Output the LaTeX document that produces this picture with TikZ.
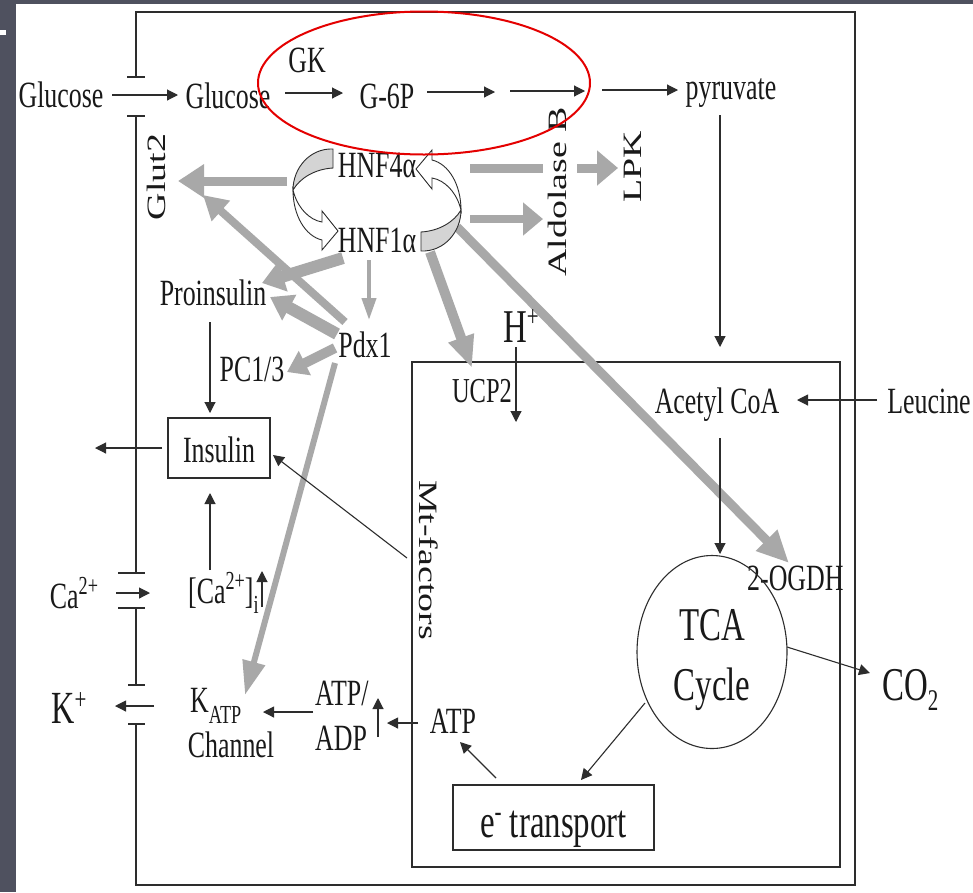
\documentclass[tikz,border=0pt]{standalone}
\usepackage{fontspec}
\setmainfont{Liberation Serif}
\newfontfamily\nf[FakeStretch=0.7]{Liberation Serif}
\newfontfamily\rfnt[FakeStretch=1.43]{Liberation Serif}
\usetikzlibrary{arrows.meta,shapes.geometric}
\definecolor{slide}{RGB}{79,81,95}
\definecolor{garrow}{RGB}{168,168,168}
\definecolor{lineink}{RGB}{45,45,45}
\definecolor{shade}{RGB}{212,212,212}
\definecolor{ellred}{RGB}{228,0,0}
\definecolor{ink}{RGB}{25,25,25}
\newcommand\fsN{\nf\fontsize{37}{40}\selectfont}
\newcommand\fsM{\nf\fontsize{35}{38}\selectfont}
\newcommand\fsL{\nf\fontsize{47}{50}\selectfont}
\newcommand\fsR{\rfnt\fontsize{26.5}{28}\selectfont}
\newcommand\fsS{\nf\fontsize{26}{28}\selectfont}
\newcommand\fsSL{\nf\fontsize{30}{32}\selectfont}
\newcommand\hnfloop{%
 \filldraw[fill=shade, draw=lineink, line width=0.9pt] (333,149) .. controls (310,148) and (293,168) .. (293,190) .. controls (300,178) and (315,169) .. (333,168) -- cycle;
 \filldraw[fill=white, draw=lineink, line width=0.9pt] (293,190) .. controls (293,215) and (305,236) .. (322,240) -- (322,250) -- (338,231) -- (322,211) -- (322,222) .. controls (309,220) and (297,207) .. (293,190) -- cycle;}
\begin{document}
\begin{tikzpicture}[x=1pt,y=-1pt,
  lbl/.style={inner sep=0pt, anchor=base, font=\fsN, text=ink},
  big/.style={inner sep=0pt, anchor=base, font=\fsL, text=ink},
  vlbl/.style={inner sep=0pt, font=\fsR, text=ink},
  blk/.style={draw=lineink, line width=1.1pt, -{Triangle[length=11pt,width=11pt]}},
  mem/.style={draw=lineink, line width=1.1pt},
  garr/.style={draw=garrow}]
\useasboundingbox (0,0) rectangle (973,892);
\fill[slide] (0,0) rectangle (973,892);
\fill[white] (16,4) rectangle (973,892);
\fill[white] (0,30) rectangle (6,35);

% cell membrane and outer box
\draw[mem] (136,77) -- (136,12) -- (855,12) -- (855,885) -- (136,885) -- (136,724);
\draw[mem] (136,116) -- (136,573);
\draw[mem] (136,608) -- (136,685);
\draw[mem] (127,77) -- (145,77);
\draw[mem] (127,116) -- (145,116);
\draw[mem] (118,573) -- (145,573);
\draw[mem] (118,608) -- (145,608);
\draw[mem] (128,685) -- (145,685);
\draw[mem] (128,724) -- (145,724);
% mitochondrion
\draw[mem] (412,362) rectangle (840,867);

% ---------- coordinates ----------
\coordinate (g1s) at (287,181);  \coordinate (g1e) at (178,181);
\coordinate (g2s) at (345,322);  \coordinate (g2e) at (203,195);
\coordinate (g3s) at (343,258);  \coordinate (g3e) at (262,283);
\coordinate (g4s) at (337,334);  \coordinate (g4e) at (270,297);
\coordinate (g5s) at (335,348);  \coordinate (g5e) at (287,372);
\coordinate (g6s) at (369,260);  \coordinate (g6e) at (369,320);
\coordinate (g7s) at (335,363);  \coordinate (g7e) at (245,695);
\coordinate (g8s) at (430,252);  \coordinate (g8e) at (472,368);
\coordinate (g9s) at (457,227);  \coordinate (g9e) at (789,563);
\coordinate (g10a) at (470,168); \coordinate (g10b) at (543,168);
\coordinate (g10c) at (577,168); \coordinate (g10e) at (618,168);
\coordinate (g11s) at (470,219); \coordinate (g11e) at (543,219);

% ---------- grey regulatory arrows ----------
\draw[garr, line width=9pt, -{Triangle[length=26pt,width=32pt]}] (g1s) -- (g1e);
\draw[garr, line width=8pt, -{Triangle[length=24pt,width=26pt]}] (g2s) -- (g2e);
\draw[garr, line width=12pt, -{Triangle[length=22pt,width=30pt]}] (g3s) -- (g3e);
\draw[garr, line width=12pt, -{Triangle[length=22pt,width=28pt]}] (g4s) -- (g4e);
\draw[garr, line width=10pt, -{Triangle[length=20pt,width=26pt]}] (g5s) -- (g5e);
\draw[garr, line width=4pt, -{Triangle[length=22pt,width=14pt]}] (g6s) -- (g6e);
\draw[garr, line width=6pt, -{Triangle[length=34pt,width=22pt]}] (g7s) -- (g7e);
\draw[garr, line width=10pt, -{Triangle[length=32pt,width=25pt]}] (g8s) -- (g8e);
\draw[garr, line width=9pt, -{Triangle[length=32pt,width=28pt]}] (g9s) -- (g9e);
\draw[garr, line width=9pt] (g10a) -- (g10b);
\draw[garr, line width=9pt, -{Triangle[length=21pt,width=34pt]}] (g10c) -- (g10e);
\draw[garr, line width=8pt, -{Triangle[length=20pt,width=32pt]}] (g11s) -- (g11e);

% HNF loop
\hnfloop
\begin{scope}[rotate around={180:(377,200)}]\hnfloop\end{scope}

% ---------- labels ----------
\node[lbl] (glcout) at (61,107) {Glucose};
\node[lbl] (glcin) at (228,108) {Glucose};
\node[lbl] (gk) at (307,72) {GK};
\node[lbl] (g6p) at (387,108) {G-6P};
\node[lbl] (pyr) at (731,99) {pyruvate};
\node[lbl] (hnf4) at (377,177) {HNF4α};
\node[lbl] (hnf1) at (377,252) {HNF1α};
\node[lbl] (proins) at (213,305) {Proinsulin};
\node[lbl] (pdx) at (365,357) {Pdx1};
\node[lbl] (pc) at (252,381) {PC1/3};
\node[draw=lineink, line width=1.1pt, font=\fsN, text=ink, minimum width=102pt, minimum height=60pt, inner sep=0pt, text height=28pt, text depth=0pt] (insulin) at (219,448) {Insulin};
\node[inner sep=0pt, anchor=base, font=\fsM, text=ink] (ucp) at (482,402) {UCP2};
\node[lbl] (acoa) at (717,413) {Acetyl CoA};
\node[lbl] (leu) at (929,413) {Leucine};
\node[lbl, anchor=base west] (ogdh) at (747,590) {2-OGDH};
\node[lbl] (ca) at (74,608) {Ca\raisebox{14pt}{\fsS 2+}};
\node[lbl, anchor=base west] (cai) at (188,603) {[Ca\raisebox{14pt}{\fsS 2+}]\raisebox{-10pt}{\fsS i}};
\node[inner sep=0pt, anchor=base, font=\nf\fontsize{46}{48}\selectfont, text=ink] (kp) at (69,723) {K\raisebox{14pt}{\fsSL +}};
\node[lbl, anchor=base west] (katp) at (190,712) {K\raisebox{-11pt}{\fsS ATP}};
\node[lbl] (chan) at (231,757) {Channel};
\node[lbl, anchor=base west] (atpadp) at (315,705) {ATP/};
\node[lbl, anchor=base west] (adp) at (315,750) {ADP};
\node[lbl] (atp) at (453,733) {ATP};
\node[big, anchor=base west] (hp) at (503,342) {H\raisebox{16pt}{\fsSL +}};
\node[draw=lineink, line width=1.1pt, ellipse, minimum width=150pt, minimum height=193pt, inner sep=0pt] (tca) at (712,652) {};
\node[big] (tcat) at (712,640) {TCA};
\node[big] (cyc) at (712,700) {Cycle};
\node[big, anchor=base west] (co2) at (882,700) {CO\raisebox{-10pt}{\fsSL 2}};
\node[draw=lineink, line width=1.1pt, font=\fsL, text=ink, minimum width=201pt, minimum height=65pt, inner sep=0pt, text height=39pt, text depth=0pt] (etr) at (553.5,817.5) {e\raisebox{16pt}{\fsSL -} transport};
\node[vlbl, rotate=90] (glut) at (156,177) {Glut2};
\node[vlbl, rotate=90] (aldo) at (557,192) {Aldolase B};
\node[vlbl, rotate=90] (lpk) at (633,167) {LPK};
\node[vlbl, rotate=-90] (mtf) at (429,560) {Mt-factors};

% red highlight
\node[draw=ellred, line width=2pt, ellipse, minimum width=332pt, minimum height=143pt, inner sep=0pt] (hl) at (424,83) {};

% ---------- black arrows ----------
\coordinate (a1s) at (112,95);  \coordinate (a1e) at (178,95);
\coordinate (a2s) at (285,93);  \coordinate (a2e) at (343,93);
\coordinate (a3s) at (427,92);  \coordinate (a3e) at (495,92);
\coordinate (a4s) at (510,91);  \coordinate (a4e) at (585,91);
\coordinate (a5s) at (602,90);  \coordinate (a5e) at (678,90);
\coordinate (a6s) at (720,115); \coordinate (a6e) at (720,347);
\coordinate (a7s) at (877,400); \coordinate (a7e) at (797,400);
\coordinate (a8s) at (720,438); \coordinate (a8e) at (720,554);
\coordinate (a9s) at (516,347); \coordinate (a9e) at (516,422);
\coordinate (a10s) at (787,647); \coordinate (a10e) at (870,673);
\coordinate (a11s) at (645,703); \coordinate (a11e) at (581,780);
\coordinate (a12s) at (496,778); \coordinate (a12e) at (460,742);
\coordinate (a13s) at (418,723); \coordinate (a13e) at (387,723);
\coordinate (a14s) at (378,737); \coordinate (a14e) at (378,698);
\coordinate (a15s) at (313,712); \coordinate (a15e) at (263,712);
\coordinate (a16s) at (262,607); \coordinate (a16e) at (262,571);
\coordinate (a17s) at (210,570); \coordinate (a17e) at (210,493);
\coordinate (a18s) at (210,322); \coordinate (a18e) at (210,413);
\coordinate (a19s) at (162,448); \coordinate (a19e) at (95,448);
\coordinate (a20s) at (407,558); \coordinate (a20e) at (273,455);
\coordinate (a21s) at (116,593); \coordinate (a21e) at (150,593);
\coordinate (a22s) at (154,706); \coordinate (a22e) at (115,706);
\foreach \i in {1,...,22}{\draw[blk] (a\i s) -- (a\i e);}
\end{tikzpicture}
\end{document}
